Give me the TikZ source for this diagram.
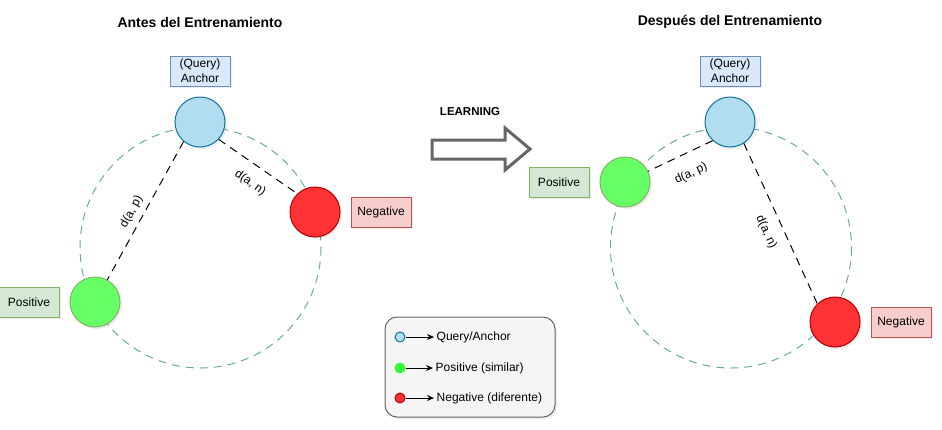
\documentclass[tikz,border=0pt]{standalone}
\usepackage{fontspec}
\setmainfont{Liberation Sans}
\usepackage{xcolor}
\usepackage{tikz}
\usetikzlibrary{arrows.meta, positioning, shadows}
\definecolor{anclafill}{HTML}{B1DDF0}
\definecolor{anclaline}{HTML}{10739E}
\definecolor{posfill}{HTML}{66FF66}
\definecolor{posline}{HTML}{82B366}
\definecolor{negfill}{HTML}{FF3333}
\definecolor{negline}{HTML}{B20000}
\definecolor{cajaazul}{HTML}{DAE8FC}
\definecolor{bordeazul}{HTML}{6C8EBF}
\definecolor{cajaverde}{HTML}{D5E8D4}
\definecolor{cajaroja}{HTML}{F8CECC}
\definecolor{borderojo}{HTML}{B85450}
\definecolor{anillo}{HTML}{67AB9F}
\definecolor{grisborde}{HTML}{666666}
\definecolor{grisfondo}{HTML}{F5F5F5}
\definecolor{verdeley}{HTML}{33FF33}

\tikzset{
  sombra/.style={drop shadow={shadow xshift=2pt, shadow yshift=-2pt, opacity=0.15}},
  punto/.style={circle, minimum size=50pt, inner sep=0pt, line width=1pt, sombra},
  caja/.style={rectangle, minimum width=60pt, minimum height=30pt, inner sep=0pt, line width=1pt, align=center, sombra},
  titulo/.style={font=\fontsize{14}{16}\selectfont\bfseries},
  anillodash/.style={draw=anillo, line width=1pt, dash pattern=on 8pt off 6pt},
  distancia/.style={black, line width=1pt, dash pattern=on 8pt off 6pt},
  etiqueta/.style={sloped, font=\fontsize{12}{14}\selectfont},
  ley/.style={circle, minimum size=10pt, inner sep=0pt, line width=1pt},
  leytexto/.style={anchor=west, inner sep=2.5pt},
  leyflecha/.style={-{Stealth[length=7pt, width=6pt]}, line width=1pt},
}

\begin{document}
\begin{tikzpicture}[x=1pt, y=-1pt, node distance=10pt, font=\fontsize{12}{15}\selectfont]
  \useasboundingbox (0,0) rectangle (942,429);

  % antes del entrenamiento
  \node[titulo] (tituloA) at (200,22) {Antes del Entrenamiento};
  \draw[anillodash] (200.5,247.5) circle (120.5);

  \node[punto, fill=anclafill, draw=anclaline] (ancA) at (200,122) {};
  \node[punto, fill=negfill, draw=negline] (negA) at (315,212) {};
  \node[punto, fill=posfill, draw=posline] (posA) at (95,302) {};

  \node[caja, fill=cajaazul, draw=bordeazul, above=of ancA] (cajaAncA) {(Query)\\Anchor};
  \node[caja, fill=cajaroja, draw=borderojo, right=of negA] (cajaNegA) {Negative};
  \node[caja, fill=cajaverde, draw=posline, left=of posA] (cajaPosA) {Positive};

  \draw[distancia] (ancA.-130) -- node[etiqueta, above, pos=0.55, inner sep=5.5pt] {d(a, p)} (posA.61);
  \draw[distancia] (ancA.-43) -- node[etiqueta, below, pos=0.53, inner sep=12pt] {d(a, n)} (negA.134);

  % flecha
  \node[font=\fontsize{11.5}{14}\selectfont\bfseries] (aprendizaje) at (470,112) {LEARNING};
  \draw[grisborde, line width=3pt, fill=white, line join=miter]
    (432,140) -- (505,140) -- (505,128) -- (530,149) -- (505,170) -- (505,159) -- (432,159) -- cycle;

  % despues del entrenamiento
  \node[titulo] (tituloB) at (730,22) {Después del Entrenamiento};
  \draw[anillodash] (731,247.5) circle (120.5);

  \node[punto, fill=anclafill, draw=anclaline] (ancB) at (730,122) {};
  \node[punto, fill=posfill, draw=posline] (posB) at (625,182) {};
  \node[punto, fill=negfill, draw=negline] (negB) at (835,322) {};

  \node[caja, fill=cajaazul, draw=bordeazul, above=of ancB] (cajaAncB) {(Query)\\Anchor};
  \node[caja, fill=cajaverde, draw=posline, left=of posB] (cajaPosB) {Positive};
  \node[caja, fill=cajaroja, draw=borderojo, right=of negB] (cajaNegB) {Negative};

  \draw[distancia] (ancB.-133) -- node[etiqueta, below, pos=0.47, inner sep=14.5pt] {d(a, p)} (posB.25);
  \draw[distancia] (ancB.-57) -- node[etiqueta, below, pos=0.51, inner sep=10.5pt] {d(a, n)} (negB.134);

  % leyenda
  \node[draw=grisborde, fill=grisfondo, rounded corners=12pt, minimum width=170pt, minimum height=100pt, line width=1pt, sombra] (leyenda) at (470,367) {};

  \node[ley, fill=anclafill, draw=anclaline] (leyAnc) at (400,337) {};
  \node[leytexto] (leyAncTxt) at (434,337) {Query/Anchor};
  \node[ley, fill=verdeley, draw=verdeley] (leyPos) at (400,368) {};
  \node[leytexto] (leyPosTxt) at (433,368) {Positive (similar)};
  \node[ley, fill=negfill, draw=negline] (leyNeg) at (400,398) {};
  \node[leytexto] (leyNegTxt) at (434,398) {Negative (diferente)};

  \draw[leyflecha] (leyAnc) -- (leyAncTxt);
  \draw[leyflecha] (leyPos) -- (leyPosTxt);
  \draw[leyflecha] (leyNeg) -- (leyNegTxt);
\end{tikzpicture}
\end{document}
